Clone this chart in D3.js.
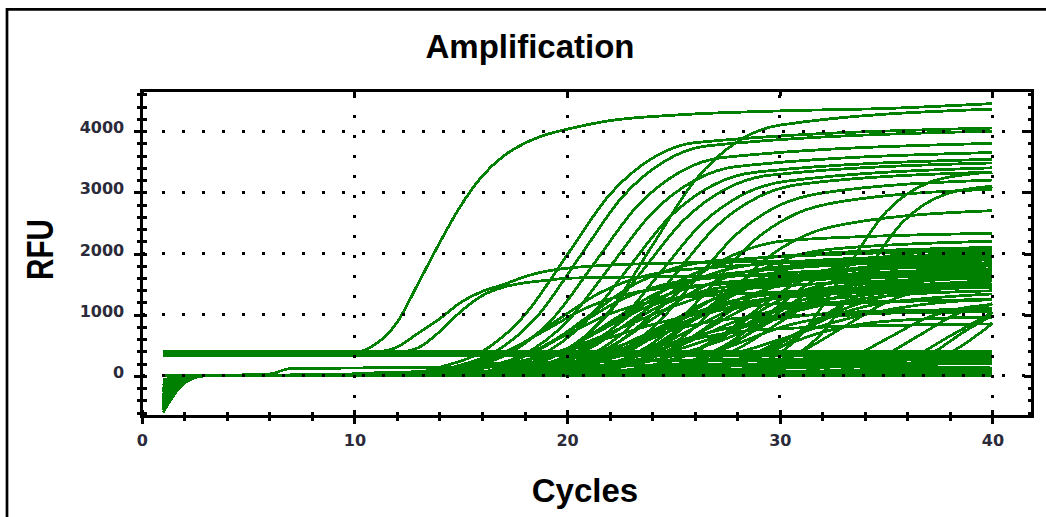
<!DOCTYPE html>
<html><head><meta charset="utf-8">
<script src="https://cdn.jsdelivr.net/npm/d3@7"></script>
<style>html,body{margin:0;padding:0;background:#fff;} svg{display:block}</style>
</head><body>
<svg id="chart" width="1046" height="517"></svg>
<script>
const titleText = "Amplification";
const xLabelText = "Cycles";
const yLabelText = "RFU";
const xTickLabels = [0, 10, 20, 30, 40];
const yTickLabels = [0, 1000, 2000, 3000, 4000];
const xMinorTicks = d3.range(0, 41, 2);
const yMinorTicks = d3.range(-600, 4601, 200);

// wells whose signal sits flat near 350-400 RFU
const flatWells = [
  [[1,330],[40,330]],
  [[1,355],[40,355]],
  [[1,380],[40,375]],
  [[1,395],[40,400]]
];
// non-amplifying wells near 0 RFU
const baselineWells = [
  [[1,-600],[2,-120],[3,0],[40,0]],
  [[1,-450],[2,-90],[3,0],[8,10],[12,60],[20,80],[40,60]],
  [[1,-300],[2,-60],[3,0],[6,30],[7,120],[14,140],[22,170],[30,200],[40,220]],
  [[1,-150],[2,-30],[3,0],[16,20],[18,150],[24,250],[32,280],[40,300]],
  [[1,0],[3,10],[40,40]],
  [[1,-250],[2,-50],[3,0],[20,0],[22,90],[28,110],[34,150],[40,130]],
  [[1,-520],[2,-100],[3,0],[10,30],[14,100],[16,200],[20,230],[26,250],[40,260]],
  [[1,-80],[2,-10],[3,0],[30,30],[34,100],[40,120]],
  [[1,-350],[2,-70],[3,0],[18,0],[21,60],[26,150],[33,180],[40,200]],
  [[1,-220],[2,-45],[3,0],[24,10],[28,70],[36,90],[40,80]],
  [[1,-420],[2,-85],[3,0],[12,20],[20,40],[30,60],[40,100]]
];
// early wells rising from the 380 RFU baseline
const earlyWells = [
  [[1,380],[10,385],[11,520],[12,870],[13,1510],[14,2170],[15,2780],[16,3260],[17,3590],[18,3800],[19,3940],[20,4030],[22,4170],[25,4260],[30,4330],[35,4370],[40,4450]],
  [[1,390],[11,395],[12,470],[13,700],[14,930],[15,1200],[16,1380],[17,1490],[18,1620],[19,1710],[20,1760],[22,1810],[26,1850],[32,1880],[40,1900]],
  [[1,380],[12,385],[13,460],[14,720],[15,1050],[16,1310],[17,1450],[18,1520],[19,1560],[20,1595],[24,1620],[32,1650],[40,1680]]
];
// wells with high plateau (2600-4400 RFU)
const highWells = [
  [[1,-350],[2,-70],[3,0],[12,0],[14,140],[16,395],[18,990],[20,1975],[22,2960],[24,3555],[26,3810],[40,4050]],
  [[1,-500],[2,-100],[3,0],[12.6,0],[14.6,140],[16.6,390],[18.6,975],[20.6,1950],[22.6,2925],[24.6,3510],[26.6,3760],[40,4000]],
  [[1,-200],[2,-40],[3,0],[13.3,0],[15.3,133],[17.3,370],[19.3,925],[21.3,1850],[23.3,2775],[25.3,3330],[27.3,3567],[40,3800]],
  [[1,-420],[2,-80],[3,0],[14,0],[16,128],[18,355],[20,888],[22,1775],[24,2663],[26,3195],[28,3422],[40,3650]],
  [[1,-300],[2,-60],[3,0],[16,0],[18,153],[20,425],[22,1063],[24,2125],[26,3188],[28,3825],[30,4097],[40,4360]],
  [[1,-150],[2,-30],[3,0],[14.8,0],[16.8,124],[18.8,345],[20.8,863],[22.8,1725],[24.8,2588],[26.8,3105],[28.8,3326],[40,3540]],
  [[1,-550],[2,-110],[3,0],[15.5,0],[17.5,122],[19.5,340],[21.5,850],[23.5,1700],[25.5,2550],[27.5,3060],[29.5,3278],[40,3480]],
  [[1,-250],[2,-50],[3,0],[16.3,0],[18.3,119],[20.3,330],[22.3,825],[24.3,1650],[26.3,2475],[28.3,2970],[30.3,3181],[40,3400]],
  [[1,-380],[2,-75],[3,0],[17,0],[19,117],[21,325],[23,813],[25,1625],[27,2438],[29,2925],[31,3133],[40,3330]],
  [[1,-100],[2,-20],[3,0],[18,0],[20,112],[22,310],[24,775],[26,1550],[28,2325],[30,2790],[32,2988],[40,3200]],
  [[1,-450],[2,-90],[3,0],[18.8,0],[20.8,106],[22.8,295],[24.8,738],[26.8,1475],[28.8,2213],[30.8,2655],[32.8,2844],[40,3050]],
  [[1,-320],[2,-60],[3,0],[19.5,0],[21.5,94],[23.5,260],[25.5,650],[27.5,1300],[29.5,1950],[31.5,2340],[33.5,2506],[40,2700]],
  [[1,-200],[2,-40],[3,0],[25,0],[27,50],[29,191],[31,670],[33,1675],[35,2680],[37,3159],[39,3300],[40,3330]],
  [[1,-480],[2,-95],[3,0],[25.8,0],[27.8,47],[29.8,180],[31.8,630],[33.8,1575],[35.8,2520],[37.8,2970],[40,3100]]
];
// wells with mid plateau (1300-2300 RFU)
const midWells = [
  [[1,-300],[2,-60],[3,0],[11,0],[13,54],[15,150],[17,375],[19,750],[21,1125],[23,1350],[25,1446],[40,1650]],
  [[1,-480],[2,-95],[3,0],[11.5,0],[13.5,65],[15.5,180],[17.5,450],[19.5,900],[21.5,1350],[23.5,1620],[25.5,1735],[40,1950]],
  [[1,-120],[2,-25],[3,0],[12,0],[14,49],[16,135],[18,338],[20,675],[22,1013],[24,1215],[26,1301],[40,1450]],
  [[1,-600],[2,-120],[3,0],[12.5,0],[14.5,59],[16.5,165],[18.5,413],[20.5,825],[22.5,1238],[24.5,1485],[26.5,1591],[40,1800]],
  [[1,-260],[2,-50],[3,0],[13,0],[15,70],[17,195],[19,488],[21,975],[23,1463],[25,1755],[27,1880],[40,2050]],
  [[1,-400],[2,-80],[3,0],[13.5,0],[15.5,52],[17.5,145],[19.5,363],[21.5,725],[23.5,1088],[25.5,1305],[27.5,1398],[40,1600]],
  [[1,-180],[2,-35],[3,0],[14,0],[16,63],[18,175],[20,438],[22,875],[24,1313],[26,1575],[28,1687],[40,1900]],
  [[1,-520],[2,-105],[3,0],[14.5,0],[16.5,56],[18.5,155],[20.5,388],[22.5,775],[24.5,1163],[26.5,1395],[28.5,1494],[40,1700]],
  [[1,-350],[2,-70],[3,0],[15,0],[17,72],[19,200],[21,500],[23,1000],[25,1500],[27,1800],[29,1928],[40,2100]],
  [[1,-90],[2,-18],[3,0],[15.5,0],[17.5,47],[19.5,130],[21.5,325],[23.5,650],[25.5,975],[27.5,1170],[29.5,1253],[40,1450]],
  [[1,-440],[2,-90],[3,0],[16,0],[18,67],[20,185],[22,463],[24,925],[26,1388],[28,1665],[30,1783],[40,1950]],
  [[1,-230],[2,-45],[3,0],[16.5,0],[18.5,58],[20.5,160],[22.5,400],[24.5,800],[26.5,1200],[28.5,1440],[30.5,1542],[40,1750]],
  [[1,-560],[2,-110],[3,0],[17,0],[19,61],[21,170],[23,425],[25,850],[27,1275],[29,1530],[31,1639],[40,1850]],
  [[1,-150],[2,-30],[3,0],[17.5,0],[19.5,50],[21.5,140],[23.5,350],[25.5,700],[27.5,1050],[29.5,1260],[31.5,1350],[40,1550]],
  [[1,-330],[2,-65],[3,0],[18,0],[20,68],[22,190],[24,475],[26,950],[28,1425],[30,1710],[32,1832],[40,2000]],
  [[1,-470],[2,-95],[3,0],[18.5,0],[20.5,54],[22.5,150],[24.5,375],[26.5,750],[28.5,1125],[30.5,1350],[32.5,1446],[40,1650]],
  [[1,-210],[2,-40],[3,0],[19,0],[21,65],[23,180],[25,450],[27,900],[29,1350],[31,1620],[33,1735],[40,1900]],
  [[1,-380],[2,-75],[3,0],[19.5,0],[21.5,49],[23.5,135],[25.5,338],[27.5,675],[29.5,1013],[31.5,1215],[33.5,1301],[40,1500]],
  [[1,-120],[2,-25],[3,0],[20,0],[22,59],[24,165],[26,413],[28,825],[30,1238],[32,1485],[34,1591],[40,1750]],
  [[1,-500],[2,-100],[3,0],[20.5,0],[22.5,70],[24.5,195],[26.5,488],[28.5,975],[30.5,1463],[32.5,1755],[34.5,1880],[40,2050]],
  [[1,-270],[2,-55],[3,0],[21,0],[23,56],[25,155],[27,388],[29,775],[31,1163],[33,1395],[35,1494],[40,1650]],
  [[1,-410],[2,-80],[3,0],[22,0],[24,63],[26,175],[28,438],[30,875],[32,1313],[34,1575],[36,1687],[40,1800]],
  [[1,-160],[2,-30],[3,0],[23,0],[25,52],[27,145],[29,363],[31,725],[33,1088],[35,1305],[37,1398],[40,1480]],
  [[1,-300],[2,-60],[3,0],[16.5,0],[18.5,83],[20.5,230],[22.5,575],[24.5,1150],[26.5,1725],[28.5,2070],[30.5,2217],[40,2330]],
  [[1,-200],[2,-40],[3,0],[18.5,0],[20.5,77],[22.5,215],[24.5,538],[26.5,1075],[28.5,1613],[30.5,1935],[32.5,2073],[40,2200]],
  [[1,-350],[2,-70],[3,0],[21.5,0],[23.5,74],[25.5,205],[27.5,513],[29.5,1025],[31.5,1538],[33.5,1845],[35.5,1976],[40,2080]],
  [[1,-250],[2,-50],[3,0],[24,0],[26,67],[28,185],[30,463],[32,925],[34,1388],[36,1665],[38,1783],[40,1830]],
  [[1,-440],[2,-90],[3,0],[25,0],[27,58],[29,160],[31,400],[33,800],[35,1200],[37,1440],[39,1542],[40,1565]],
  [[1,-330],[2,-65],[3,0],[13.8,0],[15.8,58],[17.8,160],[19.8,400],[21.8,800],[23.8,1200],[25.8,1440],[27.8,1542],[40,1720]],
  [[1,-250],[2,-50],[3,0],[15.2,0],[17.2,68],[19.2,190],[21.2,475],[23.2,950],[25.2,1425],[27.2,1710],[29.2,1832],[40,1980]],
  [[1,-390],[2,-80],[3,0],[17.8,0],[19.8,63],[21.8,175],[23.8,438],[25.8,875],[27.8,1313],[29.8,1575],[31.8,1687],[40,1820]],
  [[1,-140],[2,-30],[3,0],[19.8,0],[21.8,52],[23.8,145],[25.8,363],[27.8,725],[29.8,1088],[31.8,1305],[33.8,1398],[40,1550]],
  [[1,-510],[2,-100],[3,0],[21.5,0],[23.5,67],[25.5,185],[27.5,463],[29.5,925],[31.5,1388],[33.5,1665],[35.5,1783],[40,1900]],
  [[1,-220],[2,-45],[3,0],[23.5,0],[25.5,61],[27.5,170],[29.5,425],[31.5,850],[33.5,1275],[35.5,1530],[37.5,1639],[40,1700]],
  [[1,-60],[2,-12],[3,0],[16.2,0],[18.2,50],[20.2,140],[22.2,350],[24.2,700],[26.2,1050],[28.2,1260],[30.2,1350],[40,1500]],
  [[1,-370],[2,-75],[3,0],[22.5,0],[24.5,47],[26.5,130],[28.5,325],[30.5,650],[32.5,975],[34.5,1170],[36.5,1253],[40,1340]]
];
// slowly rising wells filling the 0-1200 RFU region
const shallowWells = [
  [[1,-310],[2,-60],[3,0],[13,0],[15,97],[17,187],[19,340],[21,561],[23,850],[25,1139],[27,1360],[29,1513],[31,1603],[40,1750]],
  [[1,-170],[2,-35],[3,0],[14.5,0],[16.5,86],[18.5,165],[20.5,300],[22.5,495],[24.5,750],[26.5,1005],[28.5,1200],[30.5,1335],[32.5,1415],[40,1500]],
  [[1,-540],[2,-110],[3,0],[16,0],[18,105],[20,204],[22,370],[24,611],[26,925],[28,1240],[30,1480],[32,1647],[34,1745],[40,1850]],
  [[1,-260],[2,-50],[3,0],[17.5,0],[19.5,80],[21.5,154],[23.5,280],[25.5,462],[27.5,700],[29.5,938],[31.5,1120],[33.5,1246],[35.5,1320],[40,1390]],
  [[1,-400],[2,-80],[3,0],[15,0],[17,63],[19,121],[21,220],[23,363],[25,550],[27,737],[29,880],[31,979],[33,1037],[40,1090]],
  [[1,-130],[2,-25],[3,0],[19,0],[21,94],[23,182],[25,330],[27,545],[29,825],[31,1105],[33,1320],[35,1469],[37,1556],[40,1610]],
  [[1,-470],[2,-95],[3,0],[12,0],[14,71],[16,138],[18,250],[20,413],[22,625],[24,838],[26,1000],[28,1113],[30,1179],[40,1240]],
  [[1,-240],[2,-50],[3,0],[20.5,0],[22.5,74],[24.5,143],[26.5,260],[28.5,429],[30.5,650],[32.5,871],[34.5,1040],[36.5,1157],[38.5,1226],[40,1250]]
];
// wells with low plateau (800-1300 RFU)
const lowWells = [
  [[1,-300],[2,-60],[3,0],[18,0],[20,43],[22,120],[24,300],[26,600],[28,900],[30,1080],[32,1157],[40,1250]],
  [[1,-520],[2,-100],[3,0],[20,0],[22,38],[24,105],[26,263],[28,525],[30,788],[32,945],[34,1012],[40,1100]],
  [[1,-140],[2,-30],[3,0],[22,0],[24,34],[26,95],[28,238],[30,475],[32,713],[34,855],[36,916],[40,960]],
  [[1,-360],[2,-70],[3,0],[15,0],[17,36],[19,100],[21,250],[23,500],[25,750],[27,900],[29,964],[40,1050]],
  [[1,-200],[2,-40],[3,0],[16,0],[18,29],[20,80],[22,200],[24,400],[26,600],[28,720],[30,771],[40,850]]
];
// late-rising wells
const lateWells = [
  [[1,-330],[2,-65],[3,0],[28.5,0],[30.5,20],[32.5,74],[34.5,260],[36.5,650],[38.5,1040],[40,1180]],
  [[1,-180],[2,-35],[3,0],[30,0],[32,20],[34,74],[36,260],[38,650],[40,1040]],
  [[1,-460],[2,-90],[3,0],[30.8,0],[32.8,22],[34.8,86],[36.8,300],[38.8,750],[40,990]],
  [[1,-100],[2,-20],[3,0],[31.6,0],[33.6,22],[35.6,86],[37.6,300],[39.6,750],[40,860]],
  [[1,-280],[2,-55],[3,0],[27,0],[29,18],[31,68],[33,240],[35,600],[37,960],[39,1130],[40,1160]]
];

const allWells = [].concat(flatWells, baselineWells, lowWells, shallowWells, midWells, highWells, lateWells, earlyWells);

const svg = d3.select("#chart");
const pLeft = 141.7, pRight = 1032, pTop = 90.3, pBottom = 416.7;
const x = d3.scaleLinear().domain([0, 41.86]).range([pLeft, pRight]);
const y = d3.scaleLinear().domain([-666.7, 4666.7]).range([pBottom, pTop]);

// outer frame
svg.append("path").attr("d", `M7,517 L7,9.3 L1046,9.3`)
  .attr("fill", "none").attr("stroke", "#000").attr("stroke-width", 2.7);

// title and labels
svg.append("text").attr("x", 530).attr("y", 58).attr("text-anchor", "middle")
  .attr("font-family", "Liberation Sans, Arial, sans-serif").attr("font-weight", "bold")
  .attr("font-size", 33).attr("fill", "#000").text(titleText);
svg.append("text").attr("x", 585).attr("y", 502).attr("text-anchor", "middle")
  .attr("font-family", "Liberation Sans, Arial, sans-serif").attr("font-weight", "bold")
  .attr("font-size", 33).attr("fill", "#000").text(xLabelText);
svg.append("text").attr("transform", "translate(53,249.5) rotate(-90)").attr("text-anchor", "middle")
  .attr("font-family", "Liberation Sans, Arial, sans-serif").attr("font-weight", "bold")
  .attr("font-size", 37).attr("textLength", 61).attr("lengthAdjust", "spacingAndGlyphs")
  .attr("fill", "#000").text(yLabelText);

// curves
svg.append("clipPath").attr("id", "plotclip").append("rect")
  .attr("x", pLeft).attr("y", pTop).attr("width", pRight - pLeft).attr("height", pBottom - pTop);
const line = d3.line().x(d => x(d[0])).y(d => y(d[1])).curve(d3.curveMonotoneX);
svg.append("g").attr("clip-path", "url(#plotclip)")
  .selectAll("path").data(allWells).join("path")
  .attr("d", line).attr("fill", "none").attr("stroke", "#008000")
  .attr("stroke-width", 2.8).attr("shape-rendering", "crispEdges");

// dotted grid
const grid = svg.append("g").attr("shape-rendering", "crispEdges");
grid.selectAll("line.h").data(yTickLabels).join("line").attr("class", "h")
  .attr("x1", pLeft).attr("x2", pRight).attr("y1", d => y(d)).attr("y2", d => y(d))
  .attr("stroke", "#000").attr("stroke-width", 3).attr("stroke-dasharray", "3,17");
grid.selectAll("line.v").data(xTickLabels.filter(d => d > 0)).join("line").attr("class", "v")
  .attr("x1", d => x(d)).attr("x2", d => x(d)).attr("y1", pBottom).attr("y2", pTop)
  .attr("stroke", "#000").attr("stroke-width", 3).attr("stroke-dasharray", "3,17")
  .attr("stroke-dashoffset", 1.5);

// axes
function styleAxis(g) {
  g.select(".domain").remove();
  g.selectAll(".tick line").attr("stroke", "#000").attr("stroke-width", 3).attr("shape-rendering", "crispEdges");
}
const tickFont = "DejaVu Sans, Verdana, sans-serif";
// left
svg.append("g").attr("transform", `translate(${pLeft - 1.5},0)`)
  .call(d3.axisLeft(y).tickValues(yMinorTicks).tickSize(3).tickFormat("")).call(styleAxis);
svg.append("g").attr("transform", `translate(${pLeft + 1.5},0)`)
  .call(d3.axisLeft(y).tickValues(yMinorTicks).tickSize(-4).tickFormat("")).call(styleAxis);
svg.append("g").attr("transform", `translate(${pLeft - 1.5},0)`)
  .call(d3.axisLeft(y).tickValues(yTickLabels).tickSize(6).tickPadding(10).tickFormat(d3.format("d")))
  .call(styleAxis)
  .call(g => g.selectAll(".tick text").attr("font-family", tickFont).attr("font-weight", "bold")
     .attr("font-size", 16).attr("fill", "#2a2a3a").attr("dy", "0.1em"));
// right
svg.append("g").attr("transform", `translate(${pRight - 1.5},0)`)
  .call(d3.axisRight(y).tickValues(yMinorTicks).tickSize(-3).tickFormat("")).call(styleAxis);
svg.append("g").attr("transform", `translate(${pRight - 1.5},0)`)
  .call(d3.axisRight(y).tickValues(yTickLabels).tickSize(-7).tickFormat("")).call(styleAxis);
// bottom
svg.append("g").attr("transform", `translate(0,${pBottom + 1.5})`)
  .call(d3.axisBottom(x).tickValues(xMinorTicks).tickSize(2.5).tickFormat("")).call(styleAxis);
svg.append("g").attr("transform", `translate(0,${pBottom - 1.5})`)
  .call(d3.axisBottom(x).tickValues(xMinorTicks).tickSize(-3).tickFormat("")).call(styleAxis);
svg.append("g").attr("transform", `translate(0,${pBottom + 1.5})`)
  .call(d3.axisBottom(x).tickValues(xTickLabels).tickSize(6).tickPadding(10).tickFormat(d3.format("d")))
  .call(styleAxis)
  .call(g => g.selectAll(".tick text").attr("font-family", tickFont).attr("font-weight", "bold")
     .attr("font-size", 16).attr("fill", "#2a2a3a"));
svg.append("g").attr("transform", `translate(0,${pBottom - 1.5})`)
  .call(d3.axisBottom(x).tickValues(xTickLabels).tickSize(-5).tickFormat("")).call(styleAxis);
// top
svg.append("g").attr("transform", `translate(0,${pTop + 1.5})`)
  .call(d3.axisTop(x).tickValues(xTickLabels).tickSize(-4).tickFormat("")).call(styleAxis);

// plot border
svg.append("rect").attr("x", pLeft).attr("y", pTop).attr("width", pRight - pLeft).attr("height", pBottom - pTop)
  .attr("fill", "none").attr("stroke", "#000").attr("stroke-width", 3).attr("shape-rendering", "crispEdges");
</script>
</body></html>
